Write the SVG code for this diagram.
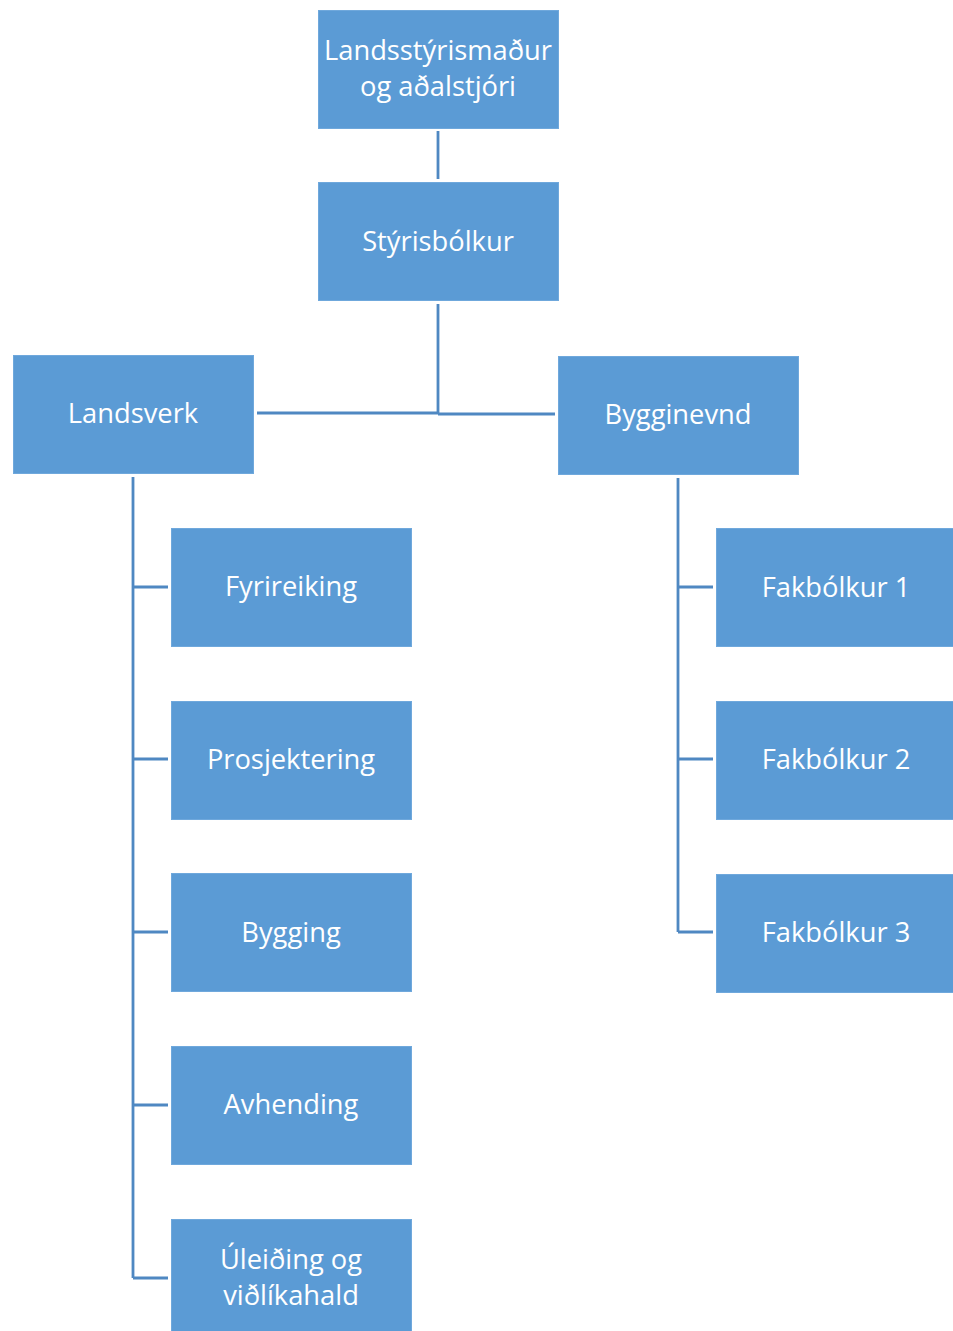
<svg xmlns="http://www.w3.org/2000/svg" width="953" height="1331" viewBox="0 0 953 1331">
<style>
.box{fill:#5B9BD5;stroke:#6FA8DC;stroke-width:1}
.t{font-family:"Open Sans","Noto Sans",sans-serif;font-size:27.3px;fill:#FFFFFF;text-anchor:middle}
.c{fill:none;stroke:#4F88C2;stroke-width:2.8}
</style>
<rect width="953" height="1331" fill="#FFFFFF"/>
<g id="connectors">
<path class="c" d="M438,131 V179"/>
<path class="c" d="M438,304 V414 M257,413 H438 M438,414 H555"/>
<path class="c" d="M133,477 V1278 M133,587 H168 M133,759 H168 M133,932 H168 M133,1105 H168 M133,1278 H168"/>
<path class="c" d="M678,478 V932 M678,587 H713 M678,759 H713 M678,932 H713"/>
</g>
<g id="n-top"><rect class="box" x="318.5" y="10.5" width="240" height="118"/><text class="t" x="438" y="60">Landsstýrismaður</text><text class="t" x="438" y="96">og aðalstjóri</text></g>
<g id="n-styris"><rect class="box" x="318.5" y="182.5" width="240" height="118"/><text class="t" x="438" y="251">Stýrisbólkur</text></g>
<g id="n-landsverk"><rect class="box" x="13.5" y="355.5" width="240" height="118"/><text class="t" x="133" y="423">Landsverk</text></g>
<g id="n-bygginevnd"><rect class="box" x="558.5" y="356.5" width="240" height="118"/><text class="t" x="678" y="424">Bygginevnd</text></g>
<g id="n-fyrireiking"><rect class="box" x="171.5" y="528.5" width="240" height="118"/><text class="t" x="291" y="596">Fyrireiking</text></g>
<g id="n-prosjektering"><rect class="box" x="171.5" y="701.5" width="240" height="118"/><text class="t" x="291" y="769">Prosjektering</text></g>
<g id="n-bygging"><rect class="box" x="171.5" y="873.5" width="240" height="118"/><text class="t" x="291" y="942">Bygging</text></g>
<g id="n-avhending"><rect class="box" x="171.5" y="1046.5" width="240" height="118"/><text class="t" x="291" y="1114">Avhending</text></g>
<g id="n-uleiding"><rect class="box" x="171.5" y="1219.5" width="240" height="118"/><text class="t" x="291" y="1269">Úleiðing og</text><text class="t" x="291" y="1305">viðlíkahald</text></g>
<g id="n-fak1"><rect class="box" x="716.5" y="528.5" width="240" height="118"/><text class="t" x="836" y="597">Fakbólkur 1</text></g>
<g id="n-fak2"><rect class="box" x="716.5" y="701.5" width="240" height="118"/><text class="t" x="836" y="769">Fakbólkur 2</text></g>
<g id="n-fak3"><rect class="box" x="716.5" y="874.5" width="240" height="118"/><text class="t" x="836" y="942">Fakbólkur 3</text></g>
</svg>
